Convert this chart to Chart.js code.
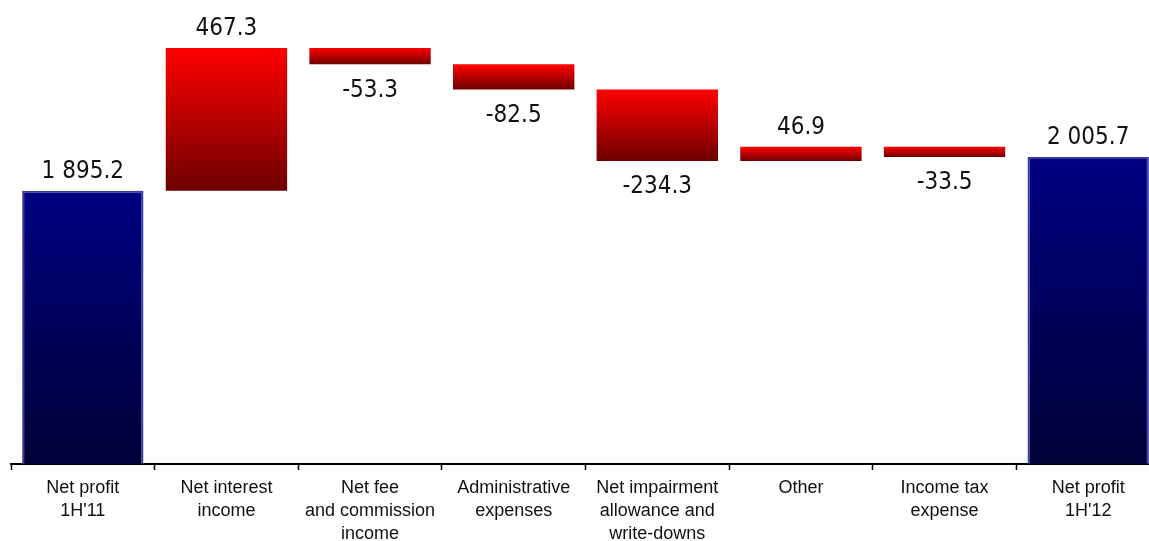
<!DOCTYPE html>
<html>
<head>
<meta charset="utf-8">
<script src="https://cdn.jsdelivr.net/npm/chart.js@4.4.1/dist/chart.umd.min.js"></script>
<style>
  html, body { margin: 0; padding: 0; background: #ffffff; overflow: hidden; }
  #wrap { position: relative; width: 1160px; height: 541px; }
</style>
</head>
<body>
<div id="wrap"><canvas id="chart"></canvas></div>
<script>
// Net profit bridge, 1H'11 -> 1H'12
const categories = [
  ['Net profit', "1H'11"],
  ['Net interest', 'income'],
  ['Net fee', 'and commission', 'income'],
  ['Administrative', 'expenses'],
  ['Net impairment', 'allowance and', 'write-downs'],
  ['Other'],
  ['Income tax', 'expense'],
  ['Net profit', "1H'12"]
];
const openingProfit = 1895.2;
const changes = [467.3, -53.3, -82.5, -234.3, 46.9, -33.5];
const closingProfit = 2005.7;

// Running level before/after each change
const levels = [openingProfit];
changes.forEach(function (c) { levels.push(+(levels[levels.length - 1] + c).toFixed(1)); });

const barData = [openingProfit]
  .concat(changes.map(function (c, i) { return [levels[i], levels[i + 1]]; }))
  .concat([closingProfit]);
const labelValues = [openingProfit].concat(changes).concat([closingProfit]);
const isTotal = labelValues.map(function (_, i) { return i === 0 || i === labelValues.length - 1; });

function formatValue(v) {
  const s = Math.abs(v).toFixed(1).split('.');
  const intPart = s[0].replace(/\B(?=(\d{3})+(?!\d))/g, ' ');
  return (v < 0 ? '-' : '') + intPart + '.' + s[1];
}

function barFill(ctx) {
  const chart = ctx.chart;
  const y = chart.scales.y;
  if (!chart.chartArea || !y) return isTotal[ctx.dataIndex] ? '#000070' : '#dd0000';
  const i = ctx.dataIndex;
  let top, bottom;
  if (isTotal[i]) {
    top = y.getPixelForValue(labelValues[i]);
    bottom = y.getPixelForValue(y.min);
  } else {
    top = y.getPixelForValue(Math.max(levels[i - 1], levels[i]));
    bottom = y.getPixelForValue(Math.min(levels[i - 1], levels[i]));
  }
  if (!isFinite(top) || !isFinite(bottom) || bottom - top < 1) bottom = top + 1;
  const g = chart.ctx.createLinearGradient(0, top, 0, bottom);
  if (isTotal[i]) {
    g.addColorStop(0, '#000082');
    g.addColorStop(1, '#000036');
  } else {
    g.addColorStop(0, '#ff0000');
    g.addColorStop(1, '#6e0000');
  }
  return g;
}

// Value labels above rises, below falls
const valueLabels = {
  id: 'valueLabels',
  afterDatasetsDraw(chart) {
    const ctx = chart.ctx;
    const meta = chart.getDatasetMeta(0);
    ctx.save();
    ctx.font = '24px "Liberation Sans Narrow", "DejaVu Sans Condensed", sans-serif';
    ctx.fillStyle = '#111111';
    ctx.textAlign = 'center';
    meta.data.forEach(function (bar, i) {
      const v = labelValues[i];
      const top = Math.min(bar.y, bar.base);
      const bottom = Math.max(bar.y, bar.base);
      if (v >= 0) {
        ctx.textBaseline = 'bottom';
        ctx.fillText(formatValue(v), bar.x, top - 7);
      } else {
        ctx.textBaseline = 'top';
        ctx.fillText(formatValue(v), bar.x, bottom + 14);
      }
    });
    ctx.restore();
  }
};

new Chart(document.getElementById('chart'), {
  type: 'bar',
  data: {
    labels: categories,
    datasets: [{
      data: barData,
      backgroundColor: barFill,
      borderColor: function (ctx) { return isTotal[ctx.dataIndex] ? '#3a3aa6' : 'rgba(0,0,0,0)'; },
      borderWidth: function (ctx) { return isTotal[ctx.dataIndex] ? 2 : 0; },
      borderSkipped: false,
      barPercentage: 0.845,
      categoryPercentage: 1.0
    }]
  },
  options: {
    responsive: true,
    maintainAspectRatio: false,
    animation: false,
    layout: { padding: { left: 11, right: 0, top: 0, bottom: 0 } },
    plugins: { legend: { display: false }, tooltip: { enabled: false } },
    scales: {
      x: {
        grid: {
          offset: true,
          drawOnChartArea: false,
          drawTicks: true,
          tickLength: 6,
          tickWidth: 1.5,
          tickColor: '#000000'
        },
        border: { display: true, color: '#000000', width: 2 },
        ticks: {
          color: '#111111',
          padding: 6,
          maxRotation: 0,
          autoSkip: false,
          font: { family: '"Liberation Sans", Arial, sans-serif', size: 18, lineHeight: 1.3 }
        },
        afterFit: function (scale) { scale.height = 77; }
      },
      y: {
        display: false,
        min: 1000,
        max: 2520
      }
    }
  },
  plugins: [valueLabels]
});
</script>
</body>
</html>
